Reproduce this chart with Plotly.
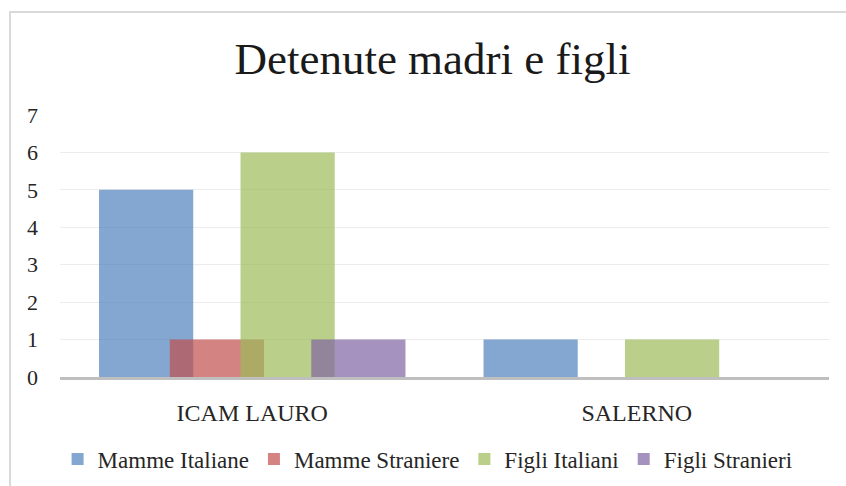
import plotly.graph_objects as go

categories = ["ICAM LAURO", "SALERNO"]
series_names = ["Mamme Italiane", "Mamme Straniere", "Figli Italiani", "Figli Stranieri"]
mamme_italiane = [5, 1]
mamme_straniere = [1, 0]
figli_italiani = [6, 1]
figli_stranieri = [1, 0]
y_ticks = [0, 1, 2, 3, 4, 5, 6, 7]

values = [mamme_italiane, mamme_straniere, figli_italiani, figli_stranieri]
colors = ["rgba(79,129,189,0.7)", "rgba(192,80,77,0.7)",
          "rgba(155,187,89,0.7)", "rgba(128,100,162,0.7)"]

W, H = 846, 486
L, R, T, B = 60, 17, 115, 109
pw, ph = W - L - R, H - T - B

bar_w = 0.245
step = 0.184
start = -(bar_w + 3 * step) / 2

fig = go.Figure()
for i, (name, vals, col) in enumerate(zip(series_names, values, colors)):
    fig.add_trace(go.Bar(
        x=categories, y=vals, name=name,
        marker=dict(color=col, line=dict(width=0)),
        width=bar_w, offset=start + i * step,
    ))

serif = "Liberation Serif"

# outer chart border (cropped at right/bottom)
fig.add_shape(type="rect", xref="paper", yref="paper",
              x0=(10 - L) / pw, x1=(W + 20 - L) / pw,
              y0=(H - B - (H + 20)) / ph, y1=(H - B - 12) / ph,
              line=dict(color="#d9d9d9", width=2), fillcolor="rgba(0,0,0,0)",
              layer="below")

fig.update_layout(
    width=W, height=H,
    margin=dict(l=L, r=R, t=T, b=B, autoexpand=False),
    paper_bgcolor="white", plot_bgcolor="white",
    barmode="overlay",
    font=dict(family=serif, color="#262626"),
    title=dict(text="Detenute madri e figli", x=(233 + 632) / 2 / W, xanchor="center",
               xref="container",
               y=1 - 58 / H, yanchor="middle", yref="container",
               font=dict(family=serif, size=45, color="#1a1a1a")),
    xaxis=dict(showgrid=False, showline=True, linecolor="#bfbfbf", linewidth=3,
               ticks="", tickfont=dict(family=serif, size=24, color="#262626"),
               ticklabelstandoff=12, range=[-0.5, 1.5], zeroline=False),
    yaxis=dict(range=[0, 7], tickvals=y_ticks, showgrid=True, gridcolor="#ececec",
               gridwidth=1, zeroline=False, showline=False, ticks="",
               tickfont=dict(family=serif, size=22, color="#262626"),
               ticklabelstandoff=21),
    legend=dict(orientation="h", x=0.478, xanchor="center", y=-(459 - (H - B)) / ph,
                yanchor="middle", font=dict(family=serif, size=23, color="#262626"),
                itemwidth=30, traceorder="normal", bgcolor="rgba(0,0,0,0)"),
)

fig.write_html("out.html", config={"displayModeBar": False},
               post_script="document.body.style.margin='0';")
